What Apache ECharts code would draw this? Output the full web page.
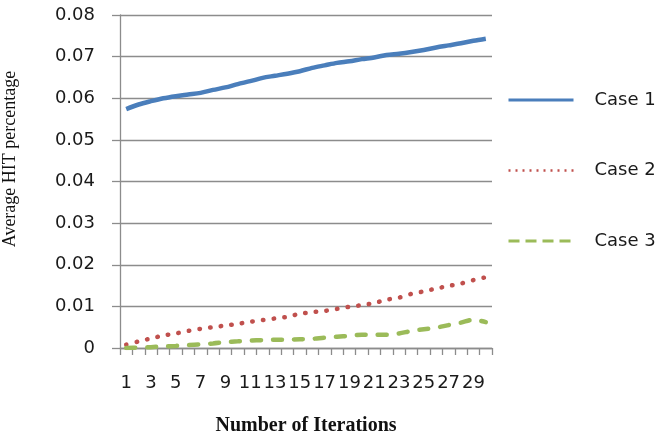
<!DOCTYPE html>
<html>
<head>
<meta charset="utf-8">
<script src="https://cdn.jsdelivr.net/npm/echarts@6/dist/echarts.min.js"></script>
<style>
  html, body { margin: 0; padding: 0; background: #fff; }
  #chart { width: 658px; height: 437px; }
</style>
</head>
<body>
<div id="chart"></div>
<script>
// Iteration numbers 1..30
const iterations = ['1','2','3','4','5','6','7','8','9','10','11','12','13','14','15',
  '16','17','18','19','20','21','22','23','24','25','26','27','28','29','30'];

// Average HIT percentage per iteration
const case1 = [0.0574, 0.0585, 0.0593, 0.0600, 0.0605, 0.0609, 0.0613, 0.0620, 0.0626, 0.0634,
  0.0641, 0.0649, 0.0654, 0.0659, 0.0665, 0.0673, 0.0679, 0.0685, 0.0689, 0.0694,
  0.0698, 0.0704, 0.0707, 0.0711, 0.0716, 0.0722, 0.0727, 0.0732, 0.0738, 0.0743];
const case2 = [0.0008, 0.0016, 0.0023, 0.0030, 0.0035, 0.0041, 0.0046, 0.0050, 0.0054, 0.0058,
  0.0063, 0.0067, 0.0071, 0.0075, 0.0082, 0.0086, 0.0089, 0.0094, 0.0099, 0.0103,
  0.0108, 0.0116, 0.0121, 0.0130, 0.0136, 0.0143, 0.0149, 0.0155, 0.0163, 0.0170];
const case3 = [0.0000, 0.0001, 0.0002, 0.0004, 0.0005, 0.0007, 0.0009, 0.0011, 0.0014, 0.0016,
  0.0018, 0.0019, 0.0020, 0.0020, 0.0021, 0.0022, 0.0025, 0.0027, 0.0029, 0.0032,
  0.0032, 0.0032, 0.0035, 0.0041, 0.0045, 0.0049, 0.0055, 0.0061, 0.0068, 0.0062];

const seriesNames = ['Case 1', 'Case 2', 'Case 3'];
const colors = ['#4a7ebb', '#c0504d', '#9bbb59'];

const labelFont = { fontFamily: 'DejaVu Sans', fontSize: 18, color: '#1a1a1a' };
const gridGray = '#8c8c8c';
const hiddenSymbol = { color: 'rgba(0,0,0,0)', borderColor: 'rgba(0,0,0,0)', borderWidth: 0 };

const chart = echarts.init(document.getElementById('chart'), null, { renderer: 'canvas' });
chart.setOption({
  animation: false,
  grid: { left: 120, right: 166, top: 15, bottom: 89, outerBoundsMode: 'none', containLabel: false },
  legend: {
    orient: 'vertical',
    left: 507,
    top: 91,
    padding: 0,
    itemWidth: 65,
    itemHeight: 14,
    itemGap: 52.5,
    textStyle: Object.assign({ padding: [0, 0, 0, 16] }, labelFont),
    data: [
      { name: seriesNames[0], itemStyle: hiddenSymbol,
        lineStyle: { width: 3, color: colors[0] } },
      { name: seriesNames[1], itemStyle: hiddenSymbol,
        lineStyle: { width: 2.5, color: colors[1], type: [2, 5], cap: 'butt' } },
      { name: seriesNames[2], itemStyle: hiddenSymbol,
        lineStyle: { width: 3, color: colors[2], type: [11, 6], cap: 'butt' } }
    ]
  },
  xAxis: {
    type: 'category',
    data: iterations,
    boundaryGap: true,
    name: 'Number of Iterations',
    nameLocation: 'middle',
    nameGap: 68,
    nameTextStyle: { fontFamily: 'Liberation Serif', fontWeight: 'bold', fontSize: 20, color: '#111' },
    axisLine: { lineStyle: { color: gridGray, width: 1.3 } },
    axisTick: { show: true, length: 7, interval: 0, alignWithLabel: false, lineStyle: { color: gridGray, width: 1.3 } },
    axisLabel: Object.assign({ interval: 1, margin: 26 }, labelFont),
    splitLine: { show: false }
  },
  yAxis: {
    type: 'value',
    min: 0,
    max: 0.08,
    interval: 0.01,
    name: 'Average HIT percentage',
    nameLocation: 'middle',
    nameGap: 101,
    nameRotate: 90,
    nameTextStyle: { fontFamily: 'Liberation Serif', fontSize: 18, color: '#111', padding: [0, 0, 0, 45] },
    axisLine: { show: true, lineStyle: { color: gridGray, width: 1.3 } },
    axisTick: { show: true, length: 8, lineStyle: { color: gridGray, width: 1.3 } },
    axisLabel: Object.assign({
      margin: 25,
      formatter: v => (v === 0 ? '0' : v.toFixed(2))
    }, labelFont),
    splitLine: { show: true, lineStyle: { color: gridGray, width: 1.3 } }
  },
  series: [
    {
      name: seriesNames[0], type: 'line', data: case1, smooth: 0.3,
      symbol: 'none', color: colors[0],
      lineStyle: { width: 4.5, color: colors[0] }
    },
    {
      name: seriesNames[1], type: 'line', data: case2, smooth: 0.3,
      symbol: 'none', color: colors[1],
      lineStyle: { width: 4.5, color: colors[1], type: [0.5, 10.2], cap: 'round' }
    },
    {
      name: seriesNames[2], type: 'line', data: case3, smooth: 0.3,
      symbol: 'none', color: colors[2],
      lineStyle: { width: 4.5, color: colors[2], type: [9, 12], cap: 'round' }
    }
  ]
});
</script>
</body>
</html>
